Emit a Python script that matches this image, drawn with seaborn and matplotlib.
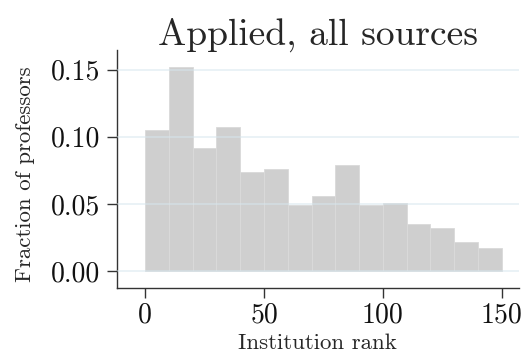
import numpy as np
import pandas as pd
import matplotlib
matplotlib.use("Agg")
import matplotlib.pyplot as plt
import seaborn as sns

# Histogram of institution rank, binned in steps of 10
bin_starts = [0, 10, 20, 30, 40, 50, 60, 70, 80, 90, 100, 110, 120, 130, 140]
fractions = [0.105, 0.152, 0.092, 0.107, 0.074, 0.076, 0.049, 0.056,
             0.079, 0.049, 0.051, 0.035, 0.032, 0.022, 0.017]
bin_edges = list(range(0, 160, 10))
x_ticks = [0, 50, 100, 150]
y_ticks = [0.00, 0.05, 0.10, 0.15]

sns.set_style("white")
plt.rcParams["font.family"] = ["cmr10", "DejaVu Serif"]
plt.rcParams["mathtext.fontset"] = "cm"
plt.rcParams["axes.formatter.use_mathtext"] = True

df = pd.DataFrame({"rank": bin_starts, "frac": fractions})

fig = plt.figure(figsize=(5.24, 3.56), dpi=100)
ax = fig.add_axes([0.2227, 0.190, 0.990 - 0.2227, 0.8596 - 0.190])

sns.histplot(data=df, x="rank", weights="frac", bins=bin_edges, stat="count",
             color="#cfcfcf", alpha=1.0, edgecolor="#dadada", linewidth=0.6, ax=ax)

ax.set_xlim(-12, 157.2)
ax.set_ylim(-0.0129, 0.1647)
ax.set_xticks(x_ticks)
ax.set_yticks(y_ticks)
ax.set_yticklabels([f"{v:.2f}" for v in y_ticks])
ax.set_xticklabels([str(v) for v in x_ticks])

ax.yaxis.grid(True, color="#d6e6ee", alpha=0.6, linewidth=1.2)
ax.set_axisbelow(False)
ax.xaxis.grid(False)

for side in ["top", "right"]:
    ax.spines[side].set_visible(False)
for side in ["left", "bottom"]:
    ax.spines[side].set_color("#333333")
    ax.spines[side].set_linewidth(1.0)

ax.tick_params(axis="both", direction="out", length=7, width=1.0, color="#333333",
               labelsize=20, pad=5, labelcolor="#111111",
               bottom=True, left=True)
ax.tick_params(axis="x", pad=3)

ax.set_xlabel("Institution rank", fontsize=16.5)
ax.xaxis.set_label_coords(0.5, -0.188)
ax.set_ylabel("Fraction of professors", fontsize=16.5, va="center")
ax.yaxis.set_label_coords(-0.228, 0.48)
ax.set_title("Applied, all sources", fontsize=27, pad=4)

fig.savefig("out.png", dpi=100)
